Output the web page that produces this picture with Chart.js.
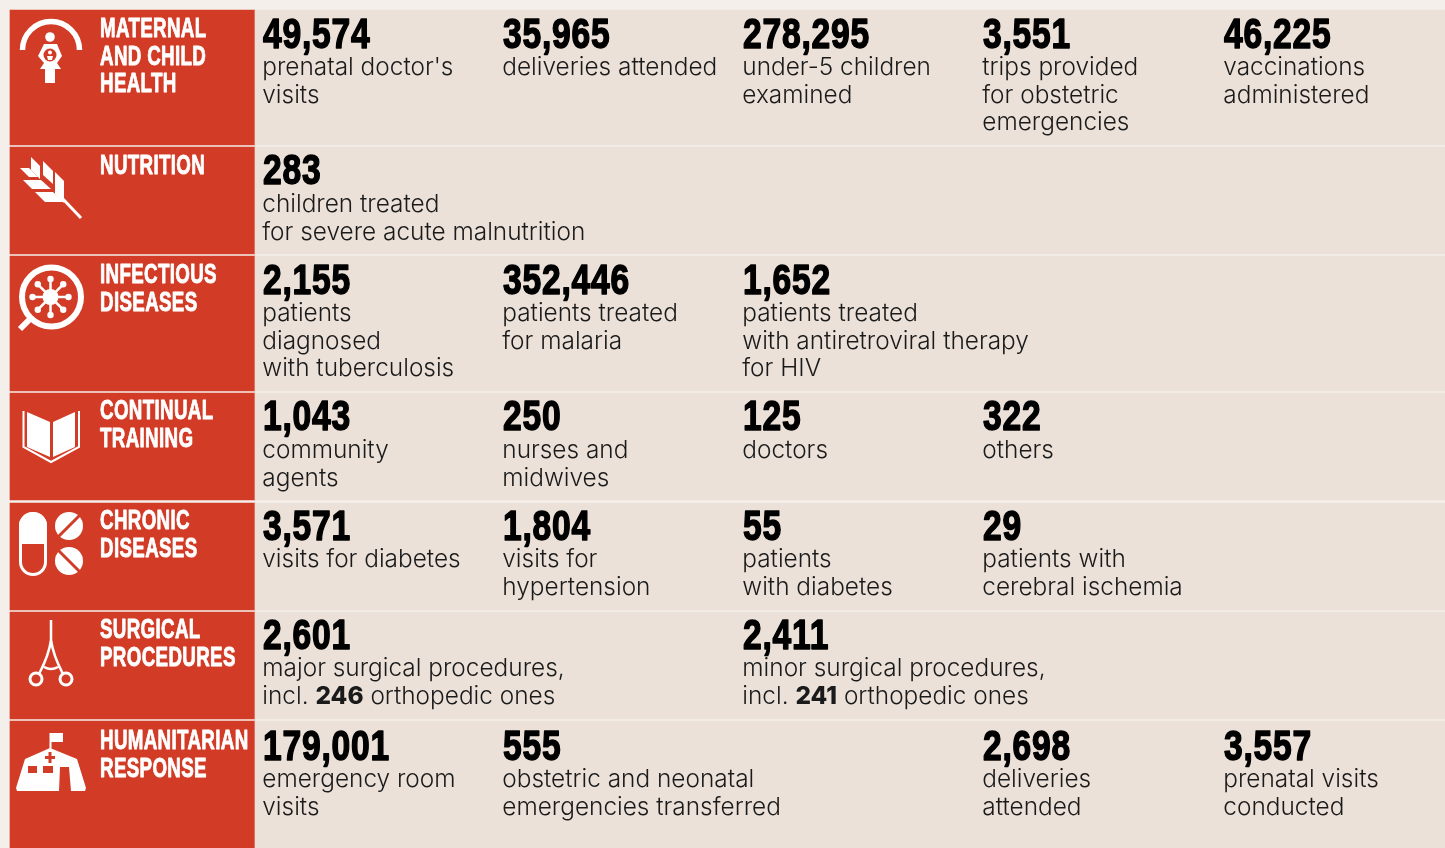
<!DOCTYPE html>
<html>
<head>
<meta charset="utf-8">
<title>Activity figures</title>
<script src="https://cdn.jsdelivr.net/npm/chart.js@4"></script>
<style>
  html, body { margin: 0; padding: 0; background: #f4efea; overflow: hidden; }
  canvas { display: block; }
</style>
</head>
<body>
<canvas id="grafico" width="1445" height="848"></canvas>
<script>
// table content
const headings = [
  ['MATERNAL', 'AND CHILD', 'HEALTH'],
  ['NUTRITION'],
  ['INFECTIOUS', 'DISEASES'],
  ['CONTINUAL', 'TRAINING'],
  ['CHRONIC', 'DISEASES'],
  ['SURGICAL', 'PROCEDURES'],
  ['HUMANITARIAN', 'RESPONSE']
];
const figures = [
  ['49,574', '35,965', '278,295', '3,551', '46,225'],
  ['283'],
  ['2,155', '352,446', '1,652'],
  ['1,043', '250', '125', '322'],
  ['3,571', '1,804', '55', '29'],
  ['2,601', '2,411'],
  ['179,001', '555', '2,698', '3,557']
];
const captions = [
  [['prenatal doctor\'s', 'visits'], ['deliveries attended'], ['under-5 children', 'examined'], ['trips provided', 'for obstetric', 'emergencies'], ['vaccinations', 'administered']],
  [['children treated', 'for severe acute malnutrition']],
  [['patients', 'diagnosed', 'with tuberculosis'], ['patients treated', 'for malaria'], ['patients treated', 'with antiretroviral therapy', 'for HIV']],
  [['community', 'agents'], ['nurses and', 'midwives'], ['doctors'], ['others']],
  [['visits for diabetes'], ['visits for', 'hypertension'], ['patients', 'with diabetes'], ['patients with', 'cerebral ischemia']],
  [['major surgical procedures,', 'incl. *246* orthopedic ones'], ['minor surgical procedures,', 'incl. *241* orthopedic ones']],
  [['emergency room', 'visits'], ['obstetric and neonatal', 'emergencies transferred'], ['deliveries', 'attended'], ['prenatal visits', 'conducted']]
];
const slots = [
  [0, 1, 2, 3, 4],
  [0],
  [0, 1, 2],
  [0, 1, 2, 3],
  [0, 1, 2, 3],
  [0, 2],
  [0, 1, 3, 4]
];

// layout, in page pixels
const rowTop = [10, 147, 256, 393, 503, 612, 721];
const rowBottom = [145, 254, 391, 500, 610, 719, 848];
const figureBase = [48, 184, 294, 430, 540, 649, 760];
const captionBase = [75, 212, 321, 458, 567, 676, 787];
const headingBase = [37, 174, 283, 419, 529, 638, 749];
const columnX = [263, 503, 743, 983, 1224];

const ROJO = '#d23c27';
const BEIGE = '#ebe1d9';
const FONDO = '#f4efea';

function panel(i, from, to, color) {
  return {
    type: 'bar',
    indexAxis: 'y',
    grouped: false,
    barThickness: rowBottom[i] - rowTop[i],
    backgroundColor: color,
    borderWidth: 0,
    data: [{ x: [from, to], y: (rowTop[i] + rowBottom[i]) / 2 }]
  };
}

const panels = [];
rowTop.forEach((_, i) => {
  panels.push(panel(i, 255, 1445, BEIGE));
  panels.push(panel(i, 10, 255, ROJO));
});

// one invisible point per figure, the text is hung from it
const anchors = {
  type: 'scatter',
  label: 'anchors',
  pointRadius: 0,
  data: figures.flatMap((row, i) => row.map((_, j) => ({
    x: columnX[slots[i][j]], y: figureBase[i], row: i, cell: j
  })))
};

function squeezed(ctx, text, x, y, size, sx, heavy, gap, color) {
  ctx.save();
  ctx.translate(x, y);
  ctx.scale(sx, 1);
  ctx.font = `bold ${size}px "Liberation Sans"`;
  ctx.letterSpacing = gap + 'px';
  ctx.fillStyle = color;
  ctx.strokeStyle = color;
  ctx.lineWidth = heavy;
  ctx.lineJoin = 'round';
  ctx.fillText(text, 0, 0);
  ctx.strokeText(text, 0, 0);
  ctx.restore();
}

function captionLine(ctx, line, x, y) {
  ctx.fillStyle = '#1a1a1a';
  let cx = x - 0.7;
  line.split('*').forEach((part, k) => {
    ctx.font = k % 2 ? '800 24.4px Inter' : '300 24.4px Inter';
    ctx.fillText(part, cx, y);
    cx += ctx.measureText(part).width;
  });
}

function poly(ctx, pts) {
  ctx.beginPath();
  pts.forEach((p, i) => (i ? ctx.lineTo(p[0], p[1]) : ctx.moveTo(p[0], p[1])));
  ctx.closePath();
  ctx.fill();
}

function circle(ctx, x, y, r) {
  ctx.beginPath();
  ctx.arc(x, y, r, 0, Math.PI * 2);
  ctx.fill();
}

function line(ctx, x1, y1, x2, y2, w) {
  ctx.lineWidth = w;
  ctx.beginPath();
  ctx.moveTo(x1, y1);
  ctx.lineTo(x2, y2);
  ctx.stroke();
}

// the row pictograms, plain decoration
const icons = [
  ctx => {
    ctx.lineWidth = 5.5;
    ctx.beginPath();
    ctx.arc(51, 50, 28.5, Math.PI, 0);
    ctx.stroke();
    circle(ctx, 50, 37, 4.8);
    poly(ctx, [[44, 44], [57, 44], [62, 56], [57, 63], [61, 69], [55, 69], [55, 83], [45, 83], [45, 69], [40, 69], [44, 63], [38, 56]]);
    ctx.fillStyle = ROJO;
    circle(ctx, 50, 55, 6.5);
    ctx.fillStyle = '#fff';
    circle(ctx, 50, 52.5, 2);
    poly(ctx, [[47, 56], [53, 56], [52, 60], [48, 60]]);
  },
  ctx => {
    poly(ctx, [[31, 157], [40, 166], [40, 179], [31, 170]]);
    poly(ctx, [[43, 161], [53, 171], [53, 184], [43, 175]]);
    poly(ctx, [[55, 172], [64, 181], [64, 203], [55, 194]]);
    poly(ctx, [[20, 168], [29, 168], [38, 177], [29, 177]]);
    poly(ctx, [[23, 180], [41, 180], [51, 189], [32, 189]]);
    poly(ctx, [[35, 192], [53, 192], [64, 202], [45, 202]]);
    line(ctx, 62, 198, 81, 218, 3);
  },
  ctx => {
    ctx.lineWidth = 6;
    ctx.beginPath();
    ctx.arc(51.5, 297, 29.5, 0, Math.PI * 2);
    ctx.stroke();
    line(ctx, 20, 329, 30, 319, 6);
    circle(ctx, 50.5, 297, 8);
    for (let k = 0; k < 8; k++) {
      const a = k * Math.PI / 4;
      const ex = 50.5 + 18 * Math.cos(a);
      const ey = 297 + 18 * Math.sin(a);
      line(ctx, 50.5, 297, ex, ey, 2.5);
      circle(ctx, ex, ey, 3.2);
    }
  },
  ctx => {
    poly(ctx, [[27, 412], [50, 422], [50, 457], [27, 447]]);
    poly(ctx, [[53, 422], [75, 412], [75, 447], [53, 457]]);
    ctx.lineWidth = 2;
    ctx.beginPath();
    [[23.5, 411], [23.5, 447], [51, 462], [79, 447], [79, 411]].forEach((p, i) => (i ? ctx.lineTo(p[0], p[1]) : ctx.moveTo(p[0], p[1])));
    ctx.stroke();
  },
  ctx => {
    ctx.lineWidth = 3;
    ctx.beginPath();
    ctx.roundRect(20.5, 513.5, 25, 61, 12.5);
    ctx.stroke();
    ctx.beginPath();
    ctx.roundRect(19, 512, 28, 32, [14, 14, 0, 0]);
    ctx.fill();
    circle(ctx, 69, 526, 14);
    circle(ctx, 69, 561, 14);
    ctx.strokeStyle = ROJO;
    line(ctx, 57, 538, 81, 514, 3);
    line(ctx, 57, 549, 81, 573, 3);
  },
  ctx => {
    ctx.lineWidth = 2.5;
    ctx.beginPath();
    ctx.moveTo(51, 620);
    ctx.lineTo(51, 640);
    ctx.quadraticCurveTo(49, 655, 39, 674);
    ctx.moveTo(51, 640);
    ctx.quadraticCurveTo(53, 655, 63, 674);
    ctx.moveTo(44, 667);
    ctx.quadraticCurveTo(51, 671, 58, 667);
    ctx.stroke();
    ctx.lineWidth = 3;
    ctx.beginPath();
    ctx.arc(36, 679, 6, 0, Math.PI * 2);
    ctx.moveTo(72, 679);
    ctx.arc(66, 679, 6, 0, Math.PI * 2);
    ctx.stroke();
  },
  ctx => {
    line(ctx, 50.5, 733, 50.5, 750, 2);
    ctx.fillRect(50, 733, 13, 9);
    poly(ctx, [[16, 788], [25, 759], [50, 748], [77, 759], [86, 788], [85, 791], [71, 791], [69, 767], [60, 767], [59, 791], [17, 791]]);
    ctx.fillStyle = ROJO;
    ctx.fillRect(48.5, 752, 3, 11);
    ctx.fillRect(45, 756, 10, 3);
    ctx.fillRect(28, 766, 9, 7);
    ctx.fillRect(43, 766, 10, 7);
  }
];

const tablePlugin = {
  id: 'table',
  beforeDraw(chart) {
    const ctx = chart.ctx;
    ctx.fillStyle = FONDO;
    ctx.fillRect(0, 0, chart.width, chart.height);
  },
  afterDatasetsDraw(chart) {
    const ctx = chart.ctx;
    const xs = chart.scales.x;
    const ys = chart.scales.y;
    ctx.save();
    ctx.textBaseline = 'alphabetic';

    headings.forEach((lines, i) => {
      lines.forEach((text, k) => {
        squeezed(ctx, text, xs.getPixelForValue(100), ys.getPixelForValue(headingBase[i] + k * 27.5), 28, 0.67, 0.9, 0.5, '#fff');
      });
    });

    const meta = chart.getDatasetMeta(chart.data.datasets.length - 1);
    anchors.data.forEach((d, n) => {
      const el = meta.data[n];
      squeezed(ctx, figures[d.row][d.cell], el.x, el.y, 42, 0.8, 1.5, 1, '#000');
      captions[d.row][d.cell].forEach((text, k) => {
        captionLine(ctx, text, el.x, ys.getPixelForValue(captionBase[d.row] + k * 27.6));
      });
    });

    icons.forEach(draw => {
      ctx.save();
      ctx.fillStyle = '#fff';
      ctx.strokeStyle = '#fff';
      draw(ctx);
      ctx.restore();
    });
    ctx.restore();
  }
};

new Chart(document.getElementById('grafico'), {
  type: 'scatter',
  data: { datasets: [...panels, anchors] },
  options: {
    responsive: false,
    animation: false,
    layout: { padding: 0 },
    plugins: { legend: { display: false }, tooltip: { enabled: false } },
    scales: {
      x: { type: 'linear', min: 0, max: 1445, display: false, offset: false },
      y: { type: 'linear', min: 0, max: 848, reverse: true, display: false, offset: false }
    }
  },
  plugins: [tablePlugin]
});
</script>
</body>
</html>
